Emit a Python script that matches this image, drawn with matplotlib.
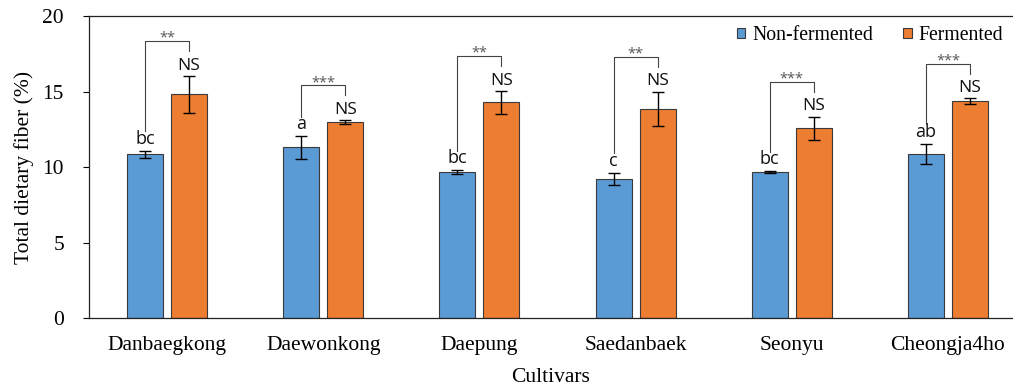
import numpy as np
import matplotlib.pyplot as plt

# Total dietary fiber of soybean cultivars, mean and SD
cultivars = ['Danbaegkong', 'Daewonkong', 'Daepung', 'Saedanbaek', 'Seonyu', 'Cheongja4ho']
non_fermented = [10.86, 11.30, 9.67, 9.23, 9.67, 10.86]
non_fermented_sd = [0.23, 0.74, 0.10, 0.40, 0.05, 0.66]
fermented = [14.81, 12.98, 14.28, 13.86, 12.56, 14.37]
fermented_sd = [1.23, 0.12, 0.76, 1.13, 0.77, 0.17]
letters_nf = ['bc', 'a', 'bc', 'c', 'bc', 'ab']
letters_f = ['NS', 'NS', 'NS', 'NS', 'NS', 'NS']
signif = ['**', '***', '**', '**', '***', '***']

blue = '#5B9BD5'
orange = '#ED7D31'
serif = 'Liberation Serif'
sans = 'Open Sans'

fig = plt.figure(figsize=(10.13, 3.91), dpi=100)
ax = fig.add_axes([0.0879, 0.1867, 0.9121, 0.7723])

x = np.arange(len(cultivars))
w = 0.23
off = 0.141
ax.bar(x - off, non_fermented, w, color=blue, edgecolor='#3a3a3a', linewidth=0.8,
       label='Non-fermented', zorder=2)
ax.bar(x + off, fermented, w, color=orange, edgecolor='#3a3a3a', linewidth=0.8,
       label='Fermented', zorder=2)
ax.errorbar(x - off, non_fermented, yerr=non_fermented_sd, fmt='none', ecolor='black',
            elinewidth=1, capsize=4, capthick=1, zorder=3)
ax.errorbar(x + off, fermented, yerr=fermented_sd, fmt='none', ecolor='black',
            elinewidth=1, capsize=4, capthick=1, zorder=3)

for i in range(len(cultivars)):
    top_nf = non_fermented[i] + non_fermented_sd[i]
    top_f = fermented[i] + fermented_sd[i]
    ax.text(x[i] - off, top_nf + 0.2, letters_nf[i], ha='center', va='bottom',
            fontsize=13, family=sans, color='#111111')
    ax.text(x[i] + off, top_f + 0.15, letters_f[i], ha='center', va='bottom',
            fontsize=12.5, family=sans, color='#111111')
    # bracket between the two bars
    yb = top_f + 2.3
    ax.plot([x[i] - off, x[i] - off, x[i] + off, x[i] + off],
            [top_nf + 1.3, yb, yb, yb - 0.65], color='#444444', lw=0.8, zorder=3)
    ax.text(x[i], yb - 0.3, signif[i], ha='center', va='bottom', fontsize=10.5,
            family=sans, color='#555555')

ax.set_xlim(-0.5, 5.417)
ax.set_ylim(0, 20)
ax.set_yticks([0, 5, 10, 15, 20])
ax.set_xticks(x)
ax.set_xticklabels(cultivars, family=serif, fontsize=15.5)
for t in ax.get_yticklabels():
    t.set_family(serif)
    t.set_fontsize(15.5)
ax.tick_params(axis='x', length=0, pad=13)
ax.tick_params(axis='y', length=4, width=0.8, direction='out', pad=14)
ax.set_ylabel('Total dietary fiber (%)', family=serif, fontsize=15.5, labelpad=6)
ax.set_xlabel('Cultivars', family=serif, fontsize=15.5, labelpad=9)

for s in ['left', 'bottom', 'top']:
    ax.spines[s].set_linewidth(0.9)
    ax.spines[s].set_color('#222222')
ax.spines['right'].set_visible(False)

leg = ax.legend(loc='upper right', ncol=2, frameon=False, bbox_to_anchor=(1.0, 1.0),
                prop={'family': serif, 'size': 14.2}, handlelength=0.45, handleheight=0.45,
                handletextpad=0.35, columnspacing=1.5, borderaxespad=0.1)

fig.savefig('out.png', dpi=100)
